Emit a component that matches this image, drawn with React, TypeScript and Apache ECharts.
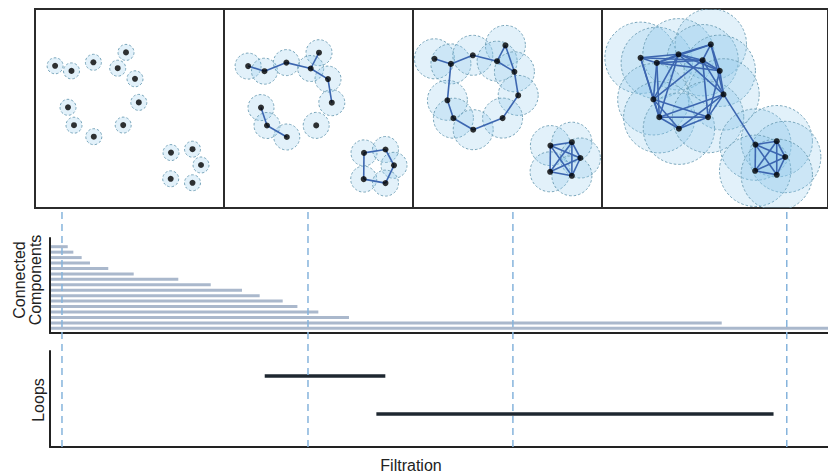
import React, { useEffect, useRef } from 'react';
import * as echarts from 'echarts';

// ---------- point cloud (same cloud shown at four filtration radii) ----------
const POINTS: [number, number][] = [
  [20.1, 56.8], [36.5, 61.9], [58.4, 53.3], [91.0, 43.4], [82.7, 59.2], [100.0, 69.8], [103.8, 93.4],
  [33.0, 98.3], [39.0, 116.2], [58.8, 127.7], [88.2, 116.1],
  [136.0, 143.6], [157.5, 140.2], [166.0, 156.0], [135.7, 169.8], [157.5, 173.8],
];
const BALL_RADII = [8, 13, 20, 36];

const EDGES_PANEL_1: [number, number][] = [];
const EDGES_PANEL_2: [number, number][] = [
  [1, 2], [2, 3], [3, 5], [4, 5], [5, 6], [6, 7], [8, 9], [9, 10],
  [12, 13], [13, 14], [14, 16], [15, 16], [12, 15],
];
const EDGES_PANEL_3: [number, number][] = [
  [1, 2], [2, 3], [3, 5], [4, 5], [4, 6], [5, 6], [6, 7], [7, 11], [10, 11], [9, 10], [8, 9], [2, 8],
  [12, 13], [12, 14], [12, 15], [12, 16], [13, 14], [13, 15], [13, 16], [14, 15], [14, 16], [15, 16],
];
const EDGES_PANEL_4: [number, number][] = [
  [1, 2], [1, 3], [1, 5], [1, 8], [1, 9],
  [2, 3], [2, 4], [2, 5], [2, 6], [2, 8], [2, 9],
  [3, 4], [3, 5], [3, 6], [3, 7], [3, 8], [3, 9],
  [4, 5], [4, 6], [4, 7],
  [5, 6], [5, 7], [5, 8], [5, 11],
  [6, 7], [6, 11],
  [7, 9], [7, 10], [7, 11],
  [8, 9], [8, 10], [8, 11],
  [9, 10], [9, 11],
  [10, 11],
  [7, 12],
  [12, 13], [12, 14], [12, 15], [12, 16], [13, 14], [13, 15], [13, 16], [14, 15], [14, 16], [15, 16],
];
const PANEL_EDGES = [EDGES_PANEL_1, EDGES_PANEL_2, EDGES_PANEL_3, EDGES_PANEL_4];

// ---------- persistence barcode ----------
const COMPONENT_BIRTHS = [0, 0, 0, 0, 0, 0, 0, 0, 0, 0, 0, 0, 0, 0, 0, 0];
const COMPONENT_DEATHS = [2.28, 3.0, 4.07, 5.14, 7.49, 10.76, 16.49, 20.66, 24.68, 26.95, 29.91, 31.8, 34.49, 38.43, 86.34, 100];
const LOOP_BIRTHS = [27.6, 41.95];
const LOOP_DEATHS = [43.1, 93.0];
const FILTRATION_MARKS = [1.54, 33.16, 59.5, 94.7];
const FILTRATION_MAX = 100;

// ---------- layout ----------
const PANEL_LEFTS = [35, 224, 413, 602];
const PANEL_WIDTHS = [189, 189, 189, 228];
const PANEL_TOP = 9;
const PANEL_HEIGHT = 199;
const PANEL_SHIFT: [number, number][] = [[0, 0], [4, 0.3], [1.4, -7], [18.8, -8]];

const FONT = '"Liberation Sans", Arial, Helvetica, sans-serif';

export default function App() {
  const ref = useRef<HTMLDivElement>(null);

  useEffect(() => {
    if (!ref.current) return;
    const chart = echarts.init(ref.current, null, { renderer: 'svg' });

    const grids: any[] = [];
    const xAxes: any[] = [];
    const yAxes: any[] = [];
    const series: any[] = [];

    // top panels
    for (let p = 0; p < 4; p++) {
      grids.push({
        left: PANEL_LEFTS[p], top: PANEL_TOP, width: PANEL_WIDTHS[p], height: PANEL_HEIGHT,
        show: true, borderColor: '#2b2b2b', borderWidth: 2, backgroundColor: 'transparent',
      });
      const [sx, sy] = PANEL_SHIFT[p];
      xAxes.push({ gridIndex: p, type: 'value', show: false, min: -sx, max: PANEL_WIDTHS[p] - sx });
      yAxes.push({ gridIndex: p, type: 'value', show: false, inverse: true, min: -sy, max: PANEL_HEIGHT - sy });
      const r = BALL_RADII[p];
      series.push({
        type: 'custom', xAxisIndex: p, yAxisIndex: p, clip: true, z: 2,
        data: POINTS.map((pt) => [pt[0], pt[1]]),
        renderItem: (_params: any, api: any) => {
          const c = api.coord([api.value(0), api.value(1)]);
          const s = api.size([r, r]);
          return {
            type: 'circle',
            shape: { cx: c[0], cy: c[1], r: s[0] },
            style: {
              fill: 'rgba(140,200,235,0.25)',
              stroke: '#6b9cb3',
              lineWidth: 0.9,
              lineDash: [2.5, 2],
            },
          };
        },
      });
      series.push({
        type: 'custom', xAxisIndex: p, yAxisIndex: p, clip: true, z: 3,
        data: PANEL_EDGES[p].map(([a, b]) => [POINTS[a - 1][0], POINTS[a - 1][1], POINTS[b - 1][0], POINTS[b - 1][1]]),
        renderItem: (_params: any, api: any) => {
          const c0 = api.coord([api.value(0), api.value(1)]);
          const c1 = api.coord([api.value(2), api.value(3)]);
          return {
            type: 'line',
            shape: { x1: c0[0], y1: c0[1], x2: c1[0], y2: c1[1] },
            style: { stroke: '#3c66b0', lineWidth: 1.6 },
          };
        },
      });
      series.push({
        type: 'scatter', xAxisIndex: p, yAxisIndex: p, z: 4,
        symbol: 'circle', symbolSize: 6,
        itemStyle: { color: '#000' },
        data: POINTS.map((pt) => [pt[0], pt[1]]),
      });
    }

    const axisLineStyle = { show: true, onZero: false, lineStyle: { color: '#222', width: 2 } };

    // connected components barcode (grid 4)
    grids.push({ left: 50, right: 0, top: 238, height: 95 });
    xAxes.push({
      gridIndex: 4, type: 'value', min: 0, max: FILTRATION_MAX,
      axisLine: axisLineStyle, axisTick: { show: false }, axisLabel: { show: false }, splitLine: { show: false },
    });
    yAxes.push({
      gridIndex: 4, type: 'value', inverse: true, min: -1.6, max: 15.86,
      axisLine: axisLineStyle, axisTick: { show: false }, axisLabel: { show: false }, splitLine: { show: false },
    });
    series.push({
      type: 'custom', xAxisIndex: 4, yAxisIndex: 4, z: 2,
      data: COMPONENT_DEATHS.map((d, i) => [COMPONENT_BIRTHS[i], d, i]),
      renderItem: (_params: any, api: any) => {
        const c0 = api.coord([api.value(0), api.value(2)]);
        const c1 = api.coord([api.value(1), api.value(2)]);
        return {
          type: 'line',
          shape: { x1: c0[0] + 1, y1: c0[1], x2: c1[0], y2: c1[1] },
          style: { stroke: '#aab8cc', lineWidth: 3 },
        };
      },
    });

    // loops barcode (grid 5)
    grids.push({ left: 50, right: 0, top: 351, height: 96 });
    xAxes.push({
      gridIndex: 5, type: 'value', min: 0, max: FILTRATION_MAX,
      axisLine: axisLineStyle, axisTick: { show: false }, axisLabel: { show: false }, splitLine: { show: false },
    });
    yAxes.push({
      gridIndex: 5, type: 'value', inverse: true, min: -0.658, max: 1.868,
      axisLine: axisLineStyle, axisTick: { show: false }, axisLabel: { show: false }, splitLine: { show: false },
    });
    series.push({
      type: 'custom', xAxisIndex: 5, yAxisIndex: 5, z: 2,
      data: LOOP_DEATHS.map((d, i) => [LOOP_BIRTHS[i], d, i]),
      renderItem: (_params: any, api: any) => {
        const c0 = api.coord([api.value(0), api.value(2)]);
        const c1 = api.coord([api.value(1), api.value(2)]);
        return {
          type: 'line',
          shape: { x1: c0[0], y1: c0[1], x2: c1[0], y2: c1[1] },
          style: { stroke: '#1e2730', lineWidth: 3.5 },
        };
      },
    });

    // filtration marks spanning both barcode panels (grid 6)
    grids.push({ left: 50, right: 0, top: 208, height: 239 });
    xAxes.push({ gridIndex: 6, type: 'value', show: false, min: 0, max: FILTRATION_MAX });
    yAxes.push({ gridIndex: 6, type: 'value', show: false, min: 0, max: 1 });
    series.push({
      type: 'custom', xAxisIndex: 6, yAxisIndex: 6, z: 5,
      data: FILTRATION_MARKS.map((f) => [f, 0]),
      renderItem: (_params: any, api: any) => {
        const c0 = api.coord([api.value(0), 0]);
        const c1 = api.coord([api.value(0), 1]);
        return {
          type: 'line',
          shape: { x1: c0[0], y1: c0[1], x2: c1[0], y2: c1[1] },
          style: { stroke: '#86b4dc', lineWidth: 1.5, lineDash: [7, 5] },
        };
      },
    });

    const textStyle = (text: string) => ({
      text, fontSize: 16, fontFamily: FONT, fill: '#222',
      align: 'center', verticalAlign: 'middle', lineHeight: 16,
    });

    chart.setOption({
      animation: false,
      backgroundColor: '#fff',
      grid: grids,
      xAxis: xAxes,
      yAxis: yAxes,
      series,
      graphic: [
        { type: 'text', x: 27, y: 280, rotation: Math.PI / 2, style: textStyle('Connected\nComponents') },
        { type: 'text', x: 38, y: 400, rotation: Math.PI / 2, style: textStyle('Loops') },
        { type: 'text', x: 411, y: 465, style: textStyle('Filtration') },
      ],
    });

    return () => chart.dispose();
  }, []);

  return (
    <div
      ref={ref}
      style={{ position: 'fixed', left: 0, top: 0, width: 828, height: 474, background: '#fff' }}
    />
  );
}
